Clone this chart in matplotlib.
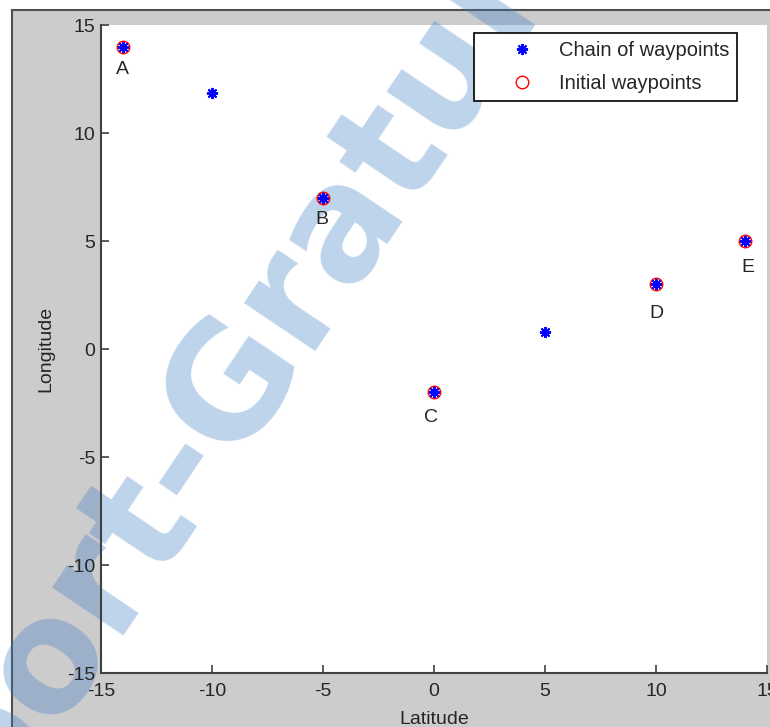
#!/usr/bin/env python3

import numpy as np
import matplotlib
matplotlib.use('Agg')
import matplotlib.pyplot as plt
from matplotlib.patches import Rectangle

# waypoint chain (blue asterisks) and initial waypoints (red circles)
chain_lat = [-14, -10, -5, 0, 5, 10, 14]
chain_lon = [14, 11.85, 7, -2, 0.8, 3, 5]
init_lat = [-14, -5, 0, 10, 14]
init_lon = [14, 7, -2, 3, 5]
init_names = ['A', 'B', 'C', 'D', 'E']
# where each name sits, relative to its waypoint (data units)
name_dx = [-0.05, -0.05, -0.15, 0.0, 0.15]
name_dy = [-1.05, -1.0, -1.15, -1.35, -1.25]

ticks = [-15, -10, -5, 0, 5, 10, 15]

plt.rcParams['font.family'] = ['Liberation Sans', 'DejaVu Sans']
plt.rcParams['axes.unicode_minus'] = False
text_col = '#262626'

W, H = 770, 727
fig = plt.figure(figsize=(W / 100, H / 100), dpi=100, facecolor='white')

# grey matlab window behind the axes
fig.add_artist(Rectangle((12 / W, -0.1), 1.2, 1.1 - 10 / H,
                         transform=fig.transFigure, facecolor='#cccccc',
                         edgecolor='#505050', linewidth=1.5, zorder=-1))

ax = fig.add_axes([101 / W, 1 - 673 / H, 666 / W, 648 / H])
ax.set_facecolor('white')

ax.plot(chain_lat, chain_lon, linestyle='none', marker=(8, 2, 0),
        markersize=8, markeredgewidth=1.4, color='blue',
        label='Chain of waypoints', zorder=3)
ax.plot(init_lat, init_lon, linestyle='none', marker='o', markersize=9,
        markerfacecolor='none', markeredgecolor='red', markeredgewidth=1.0,
        label='Initial waypoints', zorder=2)

for x, y, s, dx, dy in zip(init_lat, init_lon, init_names, name_dx, name_dy):
    ax.text(x + dx, y + dy, s, ha='center', va='center', fontsize=14,
            color=text_col)

ax.set_xlim(-15, 15)
ax.set_ylim(-15, 15)
ax.set_xticks(ticks)
ax.set_yticks(ticks)
ax.tick_params(direction='in', length=6, width=1.2, colors='#404040',
               labelcolor=text_col, labelsize=14, pad=4)
ax.tick_params(axis='x', pad=7)
for side in ['top', 'right']:
    ax.spines[side].set_visible(False)
for side in ['left', 'bottom']:
    ax.spines[side].set_color('#404040')
    ax.spines[side].set_linewidth(1.5)

ax.set_xlabel('Latitude', fontsize=14, color=text_col, labelpad=8)
ax.set_ylabel('Longitude', fontsize=14, color=text_col, labelpad=9)

leg = ax.legend(loc='upper right', bbox_to_anchor=(0.955, 0.988),
                borderaxespad=0, fontsize=14.5, fancybox=False,
                edgecolor='black', framealpha=1, handlelength=4.0,
                handletextpad=-0.2, labelspacing=0.7, borderpad=0.4)
leg.get_frame().set_linewidth(1.2)
for t in leg.get_texts():
    t.set_color(text_col)

# site watermark running diagonally across the picture
ax.text(155 / W, 1 - 492 / H, 'Rapport-Gratuit', transform=fig.transFigure,
        rotation=56, ha='center', va='center', fontsize=112,
        fontweight='bold', color='#3a7cc4', alpha=0.33, clip_on=False,
        zorder=0.5, family=['DejaVu Sans'])

fig.savefig('out.png', dpi=100)
